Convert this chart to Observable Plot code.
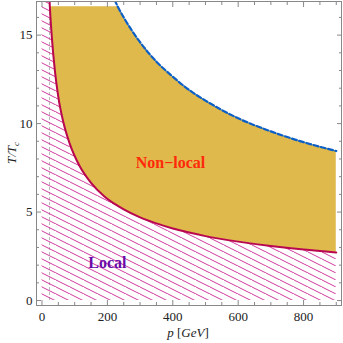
<!DOCTYPE html>
<html><head><meta charset="utf-8">
<script src="https://cdn.jsdelivr.net/npm/d3@7"></script>
<script src="https://cdn.jsdelivr.net/npm/@observablehq/plot@0.6"></script>
<style>body{margin:0;background:#fff} svg{display:block} svg text{font-family:"Liberation Serif",serif !important}</style>
</head><body><div id="chart"></div>
<script>
// Lower (local / non-local boundary) curve
const localP = [20, 24, 30, 40, 50, 65, 85, 115, 150, 190, 232, 250, 300, 350, 400, 450, 500, 600, 700, 800, 900];
const localT = [18.2, 16.6, 14.9, 12.9, 11.5, 10.1, 8.85, 7.6, 6.65, 5.9, 5.35, 5.15, 4.7, 4.36, 4.07, 3.84, 3.64, 3.33, 3.08, 2.88, 2.72];
// Upper dashed curve
const upperP = [222, 232, 250, 300, 350, 400, 450, 500, 600, 700, 800, 900];
const upperT = [17.0, 16.6, 16.0, 14.6, 13.5, 12.65, 11.9, 11.3, 10.3, 9.56, 8.95, 8.45];
// Top edge of the shaded band
const bandTop = 16.6;
const frameTop = 16.9;
const grayLineP = 23;
// Region labels
const labelText = ["Non\u2212local", "Local"];
const labelP = [393, 200];
const labelT = [7.8, 2.15];
// Ticks
const xMajor = [0, 200, 400, 600, 800];
const xMinor = [50, 100, 150, 250, 300, 350, 450, 500, 550, 650, 700, 750, 850, 900];
const yMajor = [0, 5, 10, 15];
const yMinor = [1, 2, 3, 4, 6, 7, 8, 9, 11, 12, 13, 14, 16];

const lower = localP.map((p, i) => ({p, T: localT[i]}));
const upper = upperP.map((p, i) => ({p, T: upperT[i]}));
const upperAt = new Map(upperP.map((p, i) => [p, upperT[i]]));
const band = lower.filter(d => d.T <= bandTop).map(d => ({p: d.p, lo: d.T, hi: Math.min(upperAt.get(d.p) ?? Infinity, bandTop)}));
const hatch = [{p: 0, T: frameTop}, ...lower];
const labels = labelText.map((t, i) => ({t, p: labelP[i], T: labelT[i]}));

const frameColor = "#888";
const serif = "Liberation Serif";

const chart = Plot.plot({
  width: 343, height: 343,
  marginLeft: 36, marginRight: 2, marginTop: 1, marginBottom: 38,
  style: {fontFamily: serif, fontSize: "13px", color: "#222", background: "#fff"},
  x: {domain: [-16.8, 916], label: null},
  y: {domain: [-0.28, 16.9], label: null},
  marks: [
    Plot.ruleX([grayLineP], {y1: 0, y2: frameTop, stroke: "#b8b8b8", strokeDasharray: "3,2", strokeWidth: 1}),
    Plot.areaY(hatch, {x: "p", y1: 0, y2: "T", fill: "url(#hatch)", curve: "monotone-x", clip: true}),
    Plot.areaY(band, {x: "p", y1: "lo", y2: "hi", fill: "#dfb94c", curve: "monotone-x"}),
    Plot.line(lower, {x: "p", y: "T", stroke: "#b8064f", strokeWidth: 2, curve: "monotone-x", clip: true}),
    Plot.line(upper, {x: "p", y: "T", stroke: "#0b5fc6", strokeWidth: 2.2, strokeDasharray: "5,2.5", curve: "monotone-x", clip: true}),
    Plot.text(labels.slice(0, 1), {x: "p", y: "T", text: "t", fill: "#ff2a0a", fontWeight: "bold", fontSize: 16, fontFamily: serif}),
    Plot.text(labels.slice(1), {x: "p", y: "T", text: "t", fill: "#6a0aa8", fontWeight: "bold", fontSize: 16, fontFamily: serif}),
    Plot.frame({stroke: frameColor}),
    // labels
    Plot.axisX(xMajor, {anchor: "bottom", tickSize: 0, tickPadding: 6, label: null, fill: "#222", fontSize: 13, fontFamily: serif}),
    Plot.axisY(yMajor, {anchor: "left", tickSize: 0, tickPadding: 4, label: null, fill: "#222", fontSize: 13, fontFamily: serif}),
    // major ticks (inside)
    Plot.axisX(xMajor, {anchor: "bottom", tickSize: -5, tickFormat: () => "", label: null, stroke: frameColor}),
    Plot.axisX(xMajor, {anchor: "top", tickSize: -5, tickFormat: () => "", label: null, stroke: frameColor}),
    Plot.axisY(yMajor, {anchor: "left", tickSize: -5, tickFormat: () => "", label: null, stroke: frameColor}),
    Plot.axisY(yMajor, {anchor: "right", tickSize: -5, tickFormat: () => "", label: null, stroke: frameColor}),
    // minor ticks
    Plot.axisX(xMinor, {anchor: "bottom", tickSize: -3, tickFormat: () => "", label: null, stroke: frameColor}),
    Plot.axisX(xMinor, {anchor: "top", tickSize: -3, tickFormat: () => "", label: null, stroke: frameColor}),
    Plot.axisY(yMinor, {anchor: "left", tickSize: -3, tickFormat: () => "", label: null, stroke: frameColor}),
    Plot.axisY(yMinor, {anchor: "right", tickSize: -3, tickFormat: () => "", label: null, stroke: frameColor})
  ]
});

const svg = d3.select(chart);
const defs = svg.insert("defs", ":first-child");
const pat = defs.append("pattern").attr("id", "hatch").attr("patternUnits", "userSpaceOnUse")
  .attr("width", 14).attr("height", 7);
pat.append("path").attr("d", "M-2,-1L16,8M-16,-1L2,8M12,-8L30,1")
  .attr("stroke", "#cf3a9c").attr("stroke-width", 1).attr("fill", "none");

// axis titles
const xt = svg.append("text").attr("x", 188).attr("y", 337).attr("text-anchor", "middle")
  .attr("font-family", serif).attr("font-size", 13).attr("fill", "#222");
xt.append("tspan").attr("font-style", "italic").text("p");
xt.append("tspan").text(" [");
xt.append("tspan").attr("font-style", "italic").text("GeV");
xt.append("tspan").text("]");
const yt = svg.append("text").attr("transform", "translate(16,153) rotate(-90)").attr("text-anchor", "middle")
  .attr("font-family", serif).attr("font-size", 13).attr("fill", "#222").attr("font-style", "italic");
yt.append("tspan").text("T/T");
yt.append("tspan").attr("font-size", 9).attr("dy", 3).text("c");

svg.selectAll("text").attr("font-family", serif);

document.getElementById("chart").append(chart);
</script>
</body></html>
